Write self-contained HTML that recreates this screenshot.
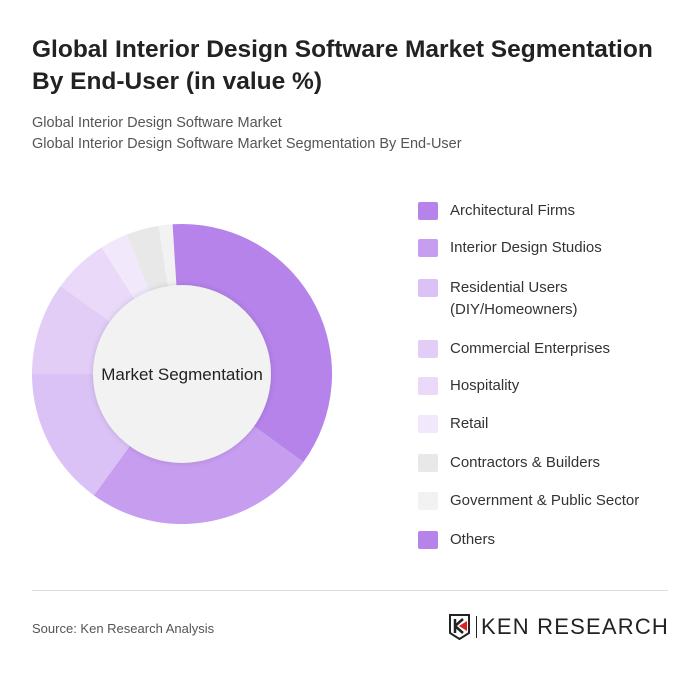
<!DOCTYPE html>
<html><head><meta charset="utf-8"><style>
body{margin:0;width:700px;height:675px;background:#fff;font-family:"Liberation Sans",sans-serif;position:relative;overflow:hidden}
.t{position:absolute;left:32px;font-weight:bold;font-size:24.5px;color:#222;line-height:32px;top:34px;letter-spacing:0px}
.s{position:absolute;left:32px;top:113px;font-size:14.5px;color:#555;line-height:21px}
.lg{position:absolute;left:418px;font-size:15px;color:#333}
.sw{position:absolute;width:20px;height:18px;left:0;border-radius:2px}
.lt{position:absolute;left:32px;line-height:22px;white-space:nowrap}
</style></head><body>
<div class="t">Global Interior Design Software Market Segmentation<br>By End-User (in value %)</div>
<div class="s">Global Interior Design Software Market<br>Global Interior Design Software Market Segmentation By End-User</div>
<svg id="ch" width="700" height="675" style="position:absolute;left:0;top:0">
<defs><filter id="sh" x="-20%" y="-20%" width="140%" height="140%"><feDropShadow dx="0" dy="0" stdDeviation="3" flood-opacity="0.15"/></filter></defs>
<g id="sl"></g>
<circle cx="182" cy="374" r="89" fill="#f2f2f2" filter="url(#sh)"/>
<text x="182" y="380" text-anchor="middle" font-size="17" fill="#222" font-family="Liberation Sans, sans-serif">Market Segmentation</text>
</svg>
<div class="lg" id="lg"></div>
<div style="position:absolute;left:32px;top:590px;width:636px;height:1px;background:#ddd"></div>
<div style="position:absolute;left:32px;top:621px;font-size:13px;color:#555">Source: Ken Research Analysis</div>
<div style="position:absolute;left:448px;top:614px;height:26px">
<svg width="24" height="26" style="position:absolute;left:0;top:0"><path d="M2 1H21V19L11.5 25L2 19Z" fill="none" stroke="#222" stroke-width="2"/><path d="M7 5V19M7 12L15 5M7 12L15 19" stroke="#222" stroke-width="2.5" fill="none"/><path d="M11 12L19 7V17Z" fill="#d22"/></svg>
<div style="position:absolute;left:28px;top:2px;width:1px;height:22px;background:#222"></div>
<div style="position:absolute;left:33px;top:0px;font-size:22px;color:#222;white-space:nowrap;letter-spacing:1.2px">KEN RESEARCH</div>
</div>
<script>
const categories=["Architectural Firms","Interior Design Studios","Residential Users (DIY/Homeowners)","Commercial Enterprises","Hospitality","Retail","Contractors & Builders","Government & Public Sector","Others"];
const values=[35,25,15,10,6,3,3.5,1.5,1];
const colors=["#b583ea","#c79df0","#dbc2f6","#e2cdf7","#ead9f9","#f1e8fb","#e8e8e8","#f2f2f2","#b583ea"];
const legendLabels=[["Architectural Firms"],["Interior Design Studios"],["Residential Users","(DIY/Homeowners)"],["Commercial Enterprises"],["Hospitality"],["Retail"],["Contractors & Builders"],["Government & Public Sector"],["Others"]];
const cx=182,cy=374,R=150,r0=89;
const tot=values.reduce((a,b)=>a+b,0);
const g=document.getElementById('sl');
function pt(a,rad){return [cx+rad*Math.sin(a),cy-rad*Math.cos(a)];}
let a=0;
values.forEach((v,i)=>{
  const a1=a+v/tot*2*Math.PI;
  const p0=pt(a,R),p1=pt(a1,R),large=(a1-a)>Math.PI?1:0;
  const p=document.createElementNS('http://www.w3.org/2000/svg','path');
  p.setAttribute('d',`M${cx} ${cy}L${p0[0]} ${p0[1]}A${R} ${R} 0 ${large} 1 ${p1[0]} ${p1[1]}Z`);
  p.setAttribute('fill',colors[i]);
  
  
  g.appendChild(p);a=a1;
});
const lg=document.getElementById('lg');
const ys=[201,238,278,339,376,414,453,491,530];
legendLabels.forEach((l,i)=>{
  const e=document.createElement('div');
  e.style.cssText=`position:absolute;left:0;top:${ys[i]}px;width:260px`;
  
  
  e.innerHTML=`<div class="sw" style="top:1px;background:${colors[i]}"></div><div class="lt" style="top:-1px">${l.join('<br>')}</div>`;
  lg.appendChild(e);
});
</script>
</body></html>
